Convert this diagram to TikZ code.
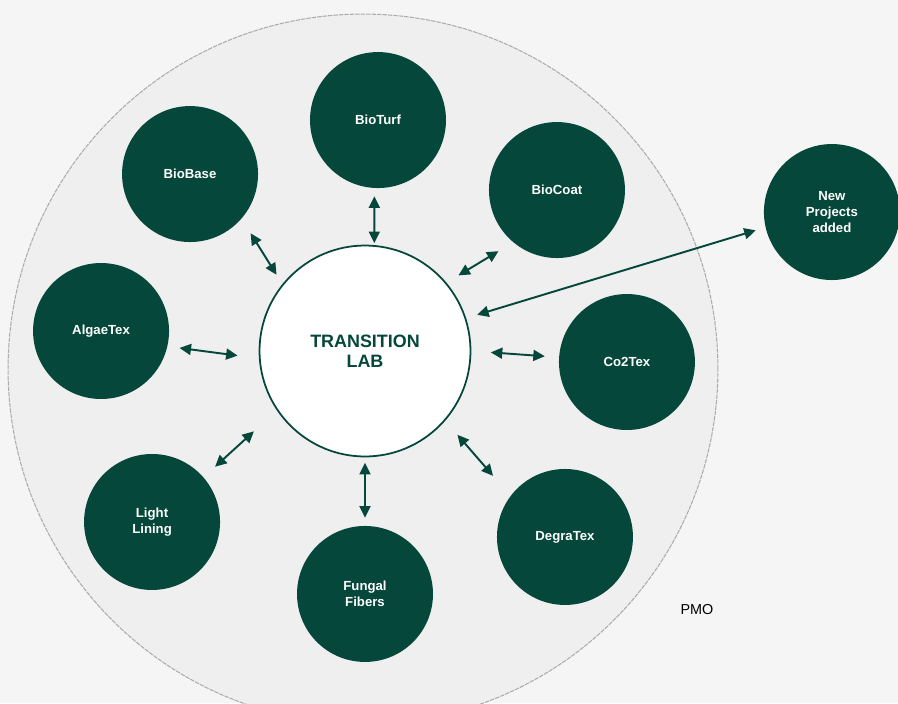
\documentclass[tikz,border=0pt]{standalone}
\usepackage{fontspec}
\setmainfont{Liberation Sans}
\usetikzlibrary{arrows.meta,positioning}
\definecolor{labgreen}{RGB}{5,71,58}
\definecolor{ringgray}{RGB}{239,239,239}
\definecolor{backgray}{RGB}{245,245,245}

\tikzset{
  project/.style={circle, fill=labgreen, minimum size=2.72cm, inner sep=0pt,
    text=white, align=center, font=\fontsize{7.5}{9.1}\selectfont\bfseries},
  hub/.style={circle, draw=labgreen, line width=1pt, fill=white, minimum size=4.22cm,
    inner sep=0pt, text=labgreen, align=center, font=\fontsize{10.2}{11.4}\selectfont\bfseries},
  link/.style={labgreen, line width=1.1pt,
    {Triangle[length=0.23cm,width=0.22cm]}-{Triangle[length=0.23cm,width=0.22cm]}},
  gaps/.style 2 args={shorten <=#1, shorten >=#2},
}

\begin{document}
\begin{tikzpicture}[x=0.02cm, y=-0.02cm, on grid]
  \useasboundingbox (0,0) rectangle (898,703);
  \clip (0,0) rectangle (898,703);
  \fill[backgray] (0,0) rectangle (898,703);
  \filldraw[fill=ringgray, draw=gray!65, line width=0.6pt, dash pattern=on 2.5pt off 0.6pt]
    (363,369) circle[radius=7.1cm];

  \node[hub] (lab) at (365,351) {TRANSITION\\LAB};
  \node[project] (bioturf) [above right=4.62cm and 0.26cm of lab] {BioTurf};
  \node[project] (biobase) [above left=3.54cm and 3.5cm of lab] {BioBase};
  \node[project] (biocoat) [above right=3.22cm and 3.84cm of lab] {BioCoat};
  \node[project] (algaetex) [above left=0.4cm and 5.28cm of lab] {AlgaeTex};
  \node[project] (co2tex) [below right=0.22cm and 5.24cm of lab] {Co2Tex};
  \node[project] (lightlining) [below left=3.42cm and 4.26cm of lab] {Light\\Lining};
  \node[project] (fungal) [below=4.86cm of lab] {Fungal\\Fibers};
  \node[project] (degratex) [below right=3.72cm and 4.0cm of lab] {DegraTex};
  \node[project] (newproj) [above right=2.78cm and 9.34cm of lab] {New\\Projects\\added};
  \node[font=\fontsize{8.2}{10}\selectfont] (pmo) at (697,610) {PMO};

  \path[link]
    (bioturf.-93) edge [gaps={0.16cm}{0.04cm}] (lab.85)
    (biobase.-41) edge [gaps={0.34cm}{0.22cm}] (lab.141)
    (lab.40) edge [gaps={0.28cm}{0.34cm}] (biocoat.-130)
    (algaetex.-13) edge [gaps={0.24cm}{0.43cm}] (lab.184)
    (lab.0) edge [gaps={0.39cm}{0.28cm}] (co2tex.176)
    (lab.214) edge [gaps={0.62cm}{0.31cm}] (lightlining.41)
    (lab.-90) edge [gaps={0.11cm}{0.16cm}] (fungal.90)
    (lab.-41) edge [gaps={0.37cm}{0.53cm}] (degratex.143)
    (lab.18) edge [gaps={0.23cm}{0.2cm}] (newproj.193);
\end{tikzpicture}
\end{document}
